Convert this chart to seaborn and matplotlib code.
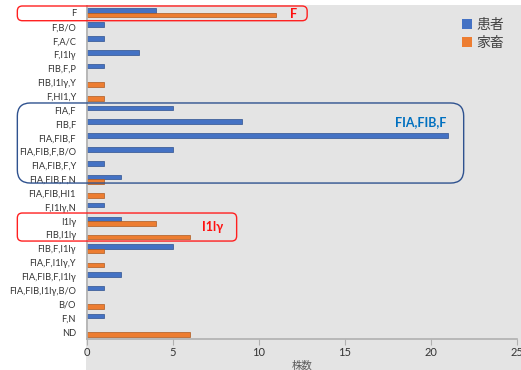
import pandas as pd
import numpy as np
import matplotlib
matplotlib.use('Agg')
import matplotlib.pyplot as plt
import seaborn as sns
from matplotlib.patches import FancyBboxPatch, Rectangle
from matplotlib.transforms import IdentityTransform

# Kategorien (von oben nach unten)
categories = ['F', 'F,B/O', 'F,A/C', 'F,I1lγ', 'FIB,F,P', 'FIB,I1lγ,Y', 'F,HI1,Y',
              'FIA,F', 'FIB,F', 'FIA,FIB,F', 'FIA,FIB,F,B/O', 'FIA,FIB,F,Y', 'FIA,FIB,F,N',
              'FIA,FIB,HI1', 'F,I1lγ,N', 'I1lγ', 'FIB,I1lγ', 'FIB,F,I1lγ', 'FIA,F,I1lγ,Y',
              'FIA,FIB,F,I1lγ', 'FIA,FIB,I1lγ,B/O', 'B/O', 'F,N', 'ND']
patients = [4, 1, 1, 3, 1, 0, 0, 5, 9, 21, 5, 1, 2, 0, 1, 2, 0, 5, 0, 2, 1, 0, 1, 0]
livestock = [11, 0, 0, 0, 0, 1, 1, 0, 0, 0, 0, 0, 1, 1, 0, 4, 6, 1, 1, 0, 0, 1, 0, 6]
series = ['患者', '家畜']
x_ticks = [0, 5, 10, 15, 20, 25]

GRAU = '#e4e4e4'
BLAU = '#4472C4'
ORANGE = '#ED7D31'

df = pd.DataFrame({'cat': categories * 2,
                   'wert': patients + livestock,
                   'serie': [series[0]] * len(categories) + [series[1]] * len(categories)})
df = df[df['wert'] > 0]

plt.rcParams['font.family'] = ['Lato', 'Noto Sans CJK JP', 'DejaVu Sans']

fig = plt.figure(figsize=(5.21, 3.70), dpi=100)
# grauer Hintergrund des Diagrammbereichs
fig.patches.append(Rectangle((86 / 521, 0), 1 - 86 / 521, 1 - 5 / 370,
                             transform=fig.transFigure, facecolor=GRAU, edgecolor='none', zorder=-5))
ax = fig.add_axes([87 / 521, 31 / 370, 430 / 521, 333 / 370])
ax.set_facecolor(GRAU)

sns.barplot(data=df, y='cat', x='wert', hue='serie', order=categories, hue_order=series,
            palette=[BLAU, ORANGE], saturation=1, width=0.64, orient='h', ax=ax, linewidth=0.5)
for cont, ec in zip(ax.containers, ['#2F528F', '#AE5A21']):
    for b in cont:
        b.set_edgecolor(ec)

ax.set_xlim(0, 25)
ax.set_ylim(len(categories) - 0.5, -0.5)
ax.set_xticks(x_ticks)
ax.set_xlabel('株数', fontsize=7.5, color='#595959', labelpad=2)
ax.set_ylabel('')
ax.tick_params(axis='y', length=0, pad=8, labelsize=6.7, labelcolor='#333333')
ax.tick_params(axis='x', length=4, width=0.8, color='#b0b0b0', labelsize=8, labelcolor='#333333', pad=2)
for s in ['top', 'right']:
    ax.spines[s].set_visible(False)
ax.spines['bottom'].set_color('#b0b0b0')
ax.spines['left'].set_color('#b0b0b0')
ax.spines['bottom'].set_linewidth(1.2)
ax.spines['left'].set_linewidth(1.2)

leg = ax.legend(loc='upper left', bbox_to_anchor=(0.857, 0.985), frameon=False, fontsize=10,
                handlelength=0.7, handleheight=0.7, handletextpad=0.3, labelspacing=0.35, borderpad=0)
for t in leg.get_texts():
    t.set_color('#404040')


def rahmen(x0, y0, x1, y1, farbe, radius):
    # Rahmen in Pixeln zeichnen (Daten -> Anzeige)
    p0 = ax.transData.transform((x0, y0))
    p1 = ax.transData.transform((x1, y1))
    left, right = min(p0[0], p1[0]), max(p0[0], p1[0])
    bottom, top = min(p0[1], p1[1]), max(p0[1], p1[1])
    box = FancyBboxPatch((left, bottom), right - left, top - bottom,
                         boxstyle=f'round,pad=0,rounding_size={radius}',
                         transform=IdentityTransform(), facecolor='none',
                         edgecolor=farbe, linewidth=1.0, clip_on=False, zorder=5)
    fig.patches.append(box)


fig.canvas.draw()
rahmen(-4.05, -0.5, 12.8, 0.56, '#FF2020', 5)
rahmen(-4.05, 6.49, 21.9, 12.26, '#2F528F', 13)
rahmen(-4.05, 14.42, 8.7, 16.44, '#FF2020', 5)
ax.text(12.0, 0.05, 'F', color='#FF1010', fontsize=9, fontweight='bold', ha='center', va='center')
ax.text(19.4, 7.9, 'FIA,FIB,F', color='#0070C0', fontsize=9, fontweight='bold', ha='center', va='center')
ax.text(7.3, 15.4, 'I1lγ', color='#FF1010', fontsize=9, fontweight='bold', ha='center', va='center')

fig.savefig('out.png', dpi=100)
